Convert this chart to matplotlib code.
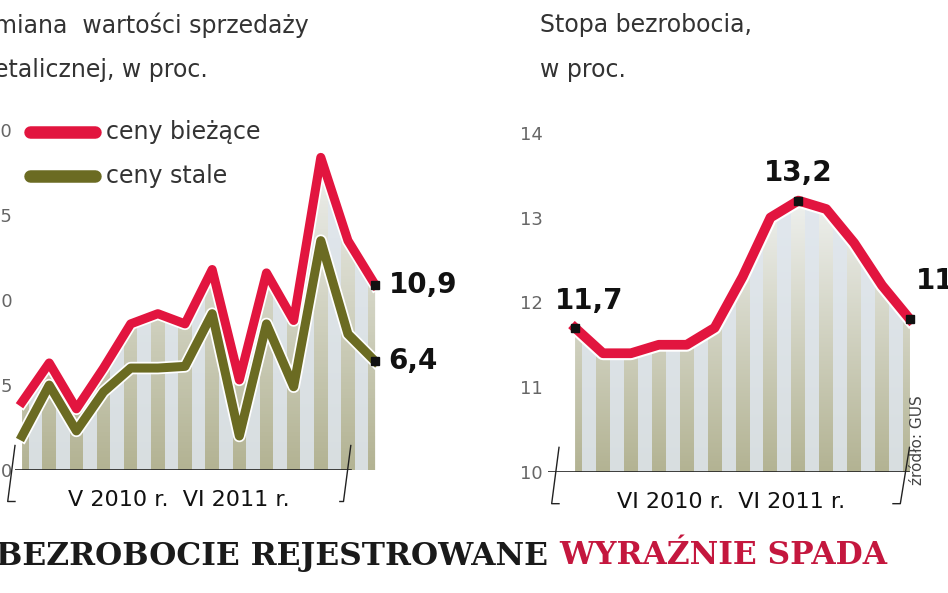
import matplotlib
matplotlib.use("Agg")
import matplotlib.pyplot as plt
import numpy as np
from matplotlib.patches import Polygon

# data
sales_months = list(range(14))  # V 2010 .. VI 2011
ceny_biezace = [4.0, 6.3, 3.6, 6.0, 8.6, 9.2, 8.6, 11.8, 5.3, 11.6, 8.8, 18.4, 13.5, 10.9]
ceny_stale = [2.0, 5.0, 2.3, 4.6, 6.0, 6.0, 6.1, 9.2, 2.0, 8.6, 4.9, 13.5, 8.0, 6.4]
unemp_months = list(range(13))  # VI 2010 .. VI 2011
bezrobocie = [11.7, 11.4, 11.4, 11.5, 11.5, 11.7, 12.3, 13.0, 13.2, 13.1, 12.7, 12.2, 11.8]
left_yticks = [0, 5, 10, 15, 20]
right_yticks = [10, 11, 12, 13, 14]

RED = "#e2153f"
OLIVE = "#6b6b22"
W, H = 948, 593
fig = plt.figure(figsize=(W/100, H/100), dpi=100)
fig.patch.set_facecolor("white")

def axrect(x0, x1, ytop, ybot):
    return [x0/W, 1-ybot/H, (x1-x0)/W, (ybot-ytop)/H]

def stripes(ax, xs, ys, base):
    verts = [(xs[0], base)] + list(zip(xs, ys)) + [(xs[-1], base)]
    poly = Polygon(verts, closed=True, facecolor="none", edgecolor="none")
    ax.add_patch(poly)
    top = max(ys)
    grad = np.linspace(0, 1, 100).reshape(-1, 1)
    im = ax.imshow(grad, extent=[xs[0], xs[-1], base, top], origin="lower",
                   cmap=matplotlib.colors.LinearSegmentedColormap.from_list("g", ["#b3b393", "#eef0ee"]),
                   aspect="auto", zorder=1)
    im.set_clip_path(poly)
    for i in range(len(xs)):
        b = ax.bar(xs[0] + i + 0.5, top - base, bottom=base, width=0.5, color="#dfe6ee", zorder=1.5, alpha=0.85)
        for r in b:
            r.set_clip_path(poly)

# ---------- left chart
ax1 = fig.add_axes(axrect(15, 380, 120, 470))
ax1.set_xlim(-0.26, 13.18)
ax1.set_ylim(0, 20.6)
stripes(ax1, sales_months, ceny_biezace, 0)
for ys, c in [(ceny_biezace, RED), (ceny_stale, OLIVE)]:
    ax1.plot(sales_months, ys, color="white", lw=9, zorder=3)
    ax1.plot(sales_months, ys, color=c, lw=6.5, zorder=4)
ax1.plot(13, ceny_biezace[-1], "s", color="#111", ms=6, zorder=5)
ax1.plot(13, ceny_stale[-1], "s", color="#111", ms=6, zorder=5)
ax1.text(13.5, ceny_biezace[-1], "10,9", fontsize=20, fontweight="bold", va="center", color="#111")
ax1.text(13.5, ceny_stale[-1], "6,4", fontsize=20, fontweight="bold", va="center", color="#111")
ax1.set_yticks(left_yticks)
ax1.set_yticklabels([str(t) for t in left_yticks], color="#666", fontsize=13)
ax1.tick_params(axis="y", length=0, pad=2)
ax1.set_xticks([])
for s in ax1.spines.values():
    s.set_visible(False)
ax1.axhline(0, color="#222", lw=1.2, xmax=0.92, zorder=6)
ax1.plot([0.0, -0.02, 0.0], [0.07, -0.09, -0.09], transform=ax1.transAxes, color="#222", lw=1, clip_on=False)
ax1.plot([0.89, 0.90, 0.92], [-0.09, -0.09, 0.07], transform=ax1.transAxes, color="#222", lw=1, clip_on=False)
ax1.text(0.45, -0.085, "V 2010 r.  VI 2011 r.", transform=ax1.transAxes, ha="center", va="center",
         fontsize=16, color="#111", bbox=dict(facecolor="white", edgecolor="none", pad=1))
# legend
ax1.plot([0.04, 0.22], [0.965, 0.965], transform=ax1.transAxes, color=RED, lw=9, solid_capstyle="round", clip_on=False)
ax1.plot([0.04, 0.22], [0.84, 0.84], transform=ax1.transAxes, color=OLIVE, lw=9, solid_capstyle="round", clip_on=False)
ax1.text(0.25, 0.965, "ceny bieżące", transform=ax1.transAxes, fontsize=17, color="#333", va="center")
ax1.text(0.25, 0.84, "ceny stale", transform=ax1.transAxes, fontsize=17, color="#333", va="center")

# ---------- right chart
ax2 = fig.add_axes(axrect(548, 915, 120, 472))
ax2.set_xlim(-0.97, 12.18)
ax2.set_ylim(10, 14.15)
stripes(ax2, unemp_months, bezrobocie, 10)
ax2.plot(unemp_months, bezrobocie, color="white", lw=10, zorder=3)
ax2.plot(unemp_months, bezrobocie, color=RED, lw=7, zorder=4)
for i, lbl, dy in [(0, "11,7", 0.32), (8, "13,2", 0.32), (12, "11,8", 0.45)]:
    ax2.plot(i, bezrobocie[i], "s", color="#111", ms=6, zorder=5)
    ax2.text(i + (0.5 if i == 0 else 0.2 if i == 12 else 0), bezrobocie[i] + dy, lbl, fontsize=20,
             fontweight="bold", ha="center" if i != 12 else "left", va="center", color="#111", clip_on=False)
ax2.set_yticks(right_yticks)
ax2.set_yticklabels([str(t) for t in right_yticks], color="#666", fontsize=13)
ax2.tick_params(axis="y", length=0, pad=4)
ax2.set_xticks([])
for s in ax2.spines.values():
    s.set_visible(False)
ax2.axhline(10, color="#222", lw=1.2, xmax=0.985, zorder=6)
ax2.plot([0.03, 0.01, 0.03], [0.07, -0.09, -0.09], transform=ax2.transAxes, color="#222", lw=1, clip_on=False)
ax2.plot([0.94, 0.96, 0.985], [-0.09, -0.09, 0.07], transform=ax2.transAxes, color="#222", lw=1, clip_on=False)
ax2.text(0.5, -0.085, "VI 2010 r.  VI 2011 r.", transform=ax2.transAxes, ha="center", va="center",
         fontsize=16, color="#111", bbox=dict(facecolor="white", edgecolor="none", pad=1))
fig.text(917/W, 1-440/H, "źródło: GUS", rotation=90, fontsize=11, color="#444", ha="center", va="center")

# titles
fig.text(-6/W, 1-25/H, "miana  wartości sprzedaży", fontsize=17, color="#333", va="center")
fig.text(-6/W, 1-70/H, "etalicznej, w proc.", fontsize=17, color="#333", va="center")
fig.text(540/W, 1-25/H, "Stopa bezrobocia,", fontsize=17, color="#333", va="center")
fig.text(540/W, 1-70/H, "w proc.", fontsize=17, color="#333", va="center")

# banner
t1 = fig.text(-4/W, 1-556/H, "BEZROBOCIE REJESTROWANE ", fontsize=22.5, fontweight="bold",
              family="DejaVu Serif", color="#1a1a1a", va="center")
fig.canvas.draw()
bb = t1.get_window_extent()
fig.text(bb.x1/W, 1-556/H, "WYRAŹNIE SPADA", fontsize=22.5, fontweight="bold",
         family="DejaVu Serif", color="#c4173e", va="center")

fig.savefig("out.png", dpi=100)
